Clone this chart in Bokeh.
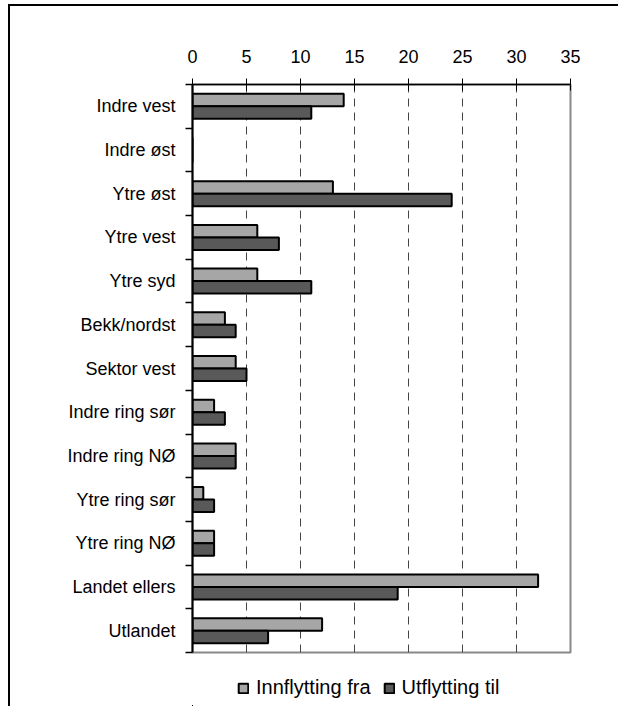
from bokeh.plotting import figure
from bokeh.layouts import column
from bokeh.models import (Range1d, LinearAxis, FixedTicker, Legend,
                          LegendItem, ColumnDataSource)
from bokeh.transform import dodge
from bokeh.embed import file_html
from bokeh.resources import INLINE

categories = ["Indre vest", "Indre øst", "Ytre øst", "Ytre vest", "Ytre syd",
              "Bekk/nordst", "Sektor vest", "Indre ring sør", "Indre ring NØ",
              "Ytre ring sør", "Ytre ring NØ", "Landet ellers", "Utlandet"]
innflytting = [14, 0, 13, 6, 6, 3, 4, 2, 4, 1, 2, 32, 12]
utflytting = [11, 0, 24, 8, 11, 4, 5, 3, 4, 2, 2, 19, 7]
series_names = ["Innflytting fra", "Utflytting til"]
x_ticks = [0, 5, 10, 15, 20, 25, 30, 35]
colors = ["#a6a6a6", "#595959"]

FONT = "Liberation Sans"
n = len(categories)
centers = [i + 0.5 for i in range(n)]   # category slots, top to bottom
bounds = list(range(n + 1))

src = ColumnDataSource(dict(pos=centers, cat=categories,
                            fra=innflytting, til=utflytting))

W, H = 608, 650
p = figure(width=W, height=H,
           y_range=Range1d(start=n, end=0),
           x_range=Range1d(x_ticks[0], x_ticks[-1]),
           x_axis_location="above", y_axis_location=None,
           output_backend="svg", toolbar_location=None,
           min_border_left=182, min_border_right=W - 560,
           min_border_top=78, min_border_bottom=4)

r1 = p.hbar(y=dodge("pos", -0.143), left=0, right="fra",
            height=0.286, source=src, fill_color=colors[0],
            line_color="black", line_width=2)
r2 = p.hbar(y=dodge("pos", 0.143), left=0, right="til",
            height=0.286, source=src, fill_color=colors[1],
            line_color="black", line_width=2)

# top axis
xa = p.xaxis[0]
xa.ticker = FixedTicker(ticks=x_ticks)
xa.major_tick_in = 6
xa.major_tick_out = 6
xa.minor_tick_line_color = None
xa.axis_line_color = "black"
xa.axis_line_width = 1.5
xa.major_tick_line_color = "black"
xa.major_label_text_font = FONT
xa.major_label_text_font_size = "18px"
xa.major_label_text_color = "black"
xa.major_label_standoff = 16

# left axis: labels at category centres, ticks at boundaries
ya = LinearAxis(ticker=FixedTicker(ticks=centers, minor_ticks=bounds),
                major_label_overrides={c: lab for c, lab in zip(centers, categories)})
ya.major_tick_line_color = None
ya.major_tick_in = 0
ya.major_tick_out = 0
ya.minor_tick_in = 0
ya.minor_tick_out = 7
ya.minor_tick_line_color = "black"
ya.minor_tick_line_width = 1.5
ya.axis_line_color = "black"
ya.axis_line_width = 2
ya.major_label_text_font = FONT
ya.major_label_text_font_size = "18px"
ya.major_label_text_color = "black"
ya.major_label_standoff = 10
p.add_layout(ya, "left")

# grid
p.ygrid.grid_line_color = None
p.xgrid.ticker = FixedTicker(ticks=x_ticks[1:-1])
p.xgrid.grid_line_color = "#444444"
p.xgrid.grid_line_dash = "8 6"
p.xgrid.grid_line_width = 1

p.outline_line_color = "#888888"
p.outline_line_width = 2
p.background_fill_color = "white"
p.border_fill_color = "white"

# legend strip below the chart (its frame is aligned with the chart frame);
# its view range lies away from the data so only the legend shows
lf = figure(width=W, height=50, x_range=Range1d(100, 101),
            y_range=Range1d(100, 101),
            x_axis_location=None, y_axis_location=None,
            output_backend="svg", toolbar_location=None, min_border=0)
lf.grid.grid_line_color = None
lf.outline_line_color = None
lf.border_fill_color = "white"
lf.background_fill_color = "white"
l1 = lf.hbar(y="pos", left=0, right="fra", height=0.5, source=src,
             fill_color=colors[0], line_color="black", line_width=2)
l2 = lf.hbar(y="pos", left=0, right="til", height=0.5, source=src,
             fill_color=colors[1], line_color="black", line_width=2)
legend = Legend(items=[LegendItem(label=series_names[0], renderers=[l1]),
                       LegendItem(label=series_names[1], renderers=[l2])],
                orientation="horizontal", location=(45, 7),
                glyph_width=12, glyph_height=12, label_standoff=7, spacing=12,
                label_text_font=FONT, label_text_font_size="20px",
                label_text_color="black",
                border_line_color=None, background_fill_alpha=0,
                margin=0, padding=4)
lf.add_layout(legend, "center")

layout = column(p, lf, spacing=0,
                styles={"border-top": "2px solid black",
                        "border-left": "2px solid black",
                        "margin-left": "8px", "margin-top": "4px"})

open("out.html", "w").write(file_html(layout, INLINE))
